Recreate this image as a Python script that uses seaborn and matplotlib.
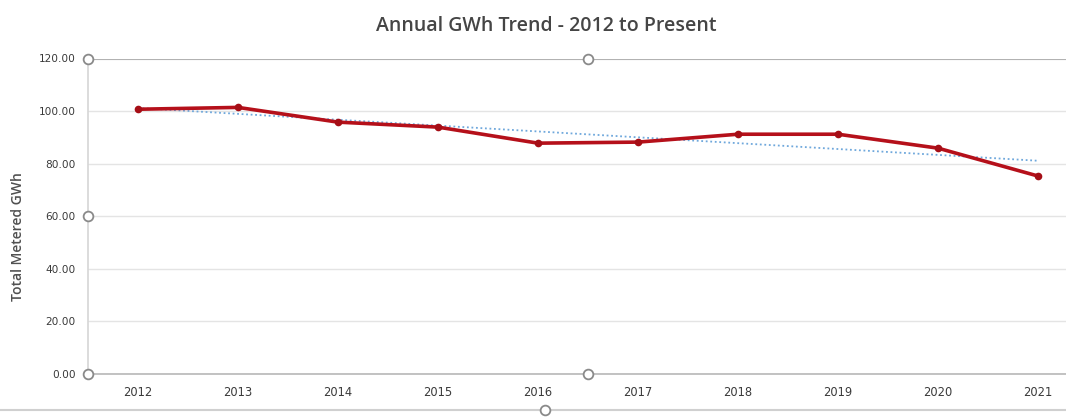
import matplotlib
matplotlib.use("Agg")
import matplotlib.pyplot as plt
import seaborn as sns
import numpy as np
import pandas as pd

# Annual metered energy, GWh
years = ["2012", "2013", "2014", "2015", "2016", "2017", "2018", "2019", "2020", "2021"]
gwh = [100.7, 101.4, 95.8, 93.9, 87.8, 88.2, 91.2, 91.2, 85.9, 75.3]
y_ticks = [0, 20, 40, 60, 80, 100, 120]

sns.set_theme(style="white")
plt.rcParams["font.family"] = ["Open Sans", "DejaVu Sans"]

df = pd.DataFrame({"year": years, "gwh": gwh, "idx": np.arange(len(years))})

# linear trend line fitted to the series
coef = np.polyfit(df["idx"], df["gwh"], 1)
df["trend"] = np.polyval(coef, df["idx"])

W, H = 1066, 417
fig = plt.figure(figsize=(W / 100, H / 100), dpi=100)
# plot area runs past the right edge of the figure
ax = fig.add_axes([88 / W, 1 - 374 / H, 1000 / W, (374 - 58.5) / H])

sns.lineplot(data=df, x="idx", y="trend", ax=ax, color="#6FA8DC",
             lw=1.3, linestyle=(0, (1, 1.5)), zorder=2)
sns.lineplot(data=df, x="idx", y="gwh", ax=ax, color="#B5101A", lw=2.6,
             marker="o", markersize=5.5, markeredgewidth=0,
             markerfacecolor="#A50E16", zorder=3)

ax.set_xlim(-0.5, len(years) - 0.5)
ax.set_ylim(0, 120)
ax.set_xticks(np.arange(len(years)))
ax.set_xticklabels(years)
ax.set_xticks(np.arange(-0.5, len(years), 1.0), minor=True)
ax.set_yticks(y_ticks)
ax.set_yticklabels([f"{v:.2f}" for v in y_ticks])

ax.tick_params(axis="x", which="major", length=0, pad=9, labelsize=8.3,
               labelcolor="#3a3a3a")
ax.tick_params(axis="x", which="minor", length=3, direction="inout",
               color="#d0d0d0", width=0.8)
ax.tick_params(axis="y", length=0, pad=9, labelsize=7.6, labelcolor="#3a3a3a")
for lab in ax.get_xticklabels() + ax.get_yticklabels():
    lab.set_family("DejaVu Sans")

ax.grid(axis="y", color="#e4e4e4", lw=1.0)
ax.grid(axis="x", visible=False)
ax.axhline(120, color="#a8a8a8", lw=1.2, zorder=1)
for side in ["top", "right"]:
    ax.spines[side].set_visible(False)
ax.spines["left"].set_color("#d6d6d6")
ax.spines["left"].set_linewidth(1.2)
ax.spines["bottom"].set_color("#b8b8b8")
ax.spines["bottom"].set_linewidth(1.2)

ax.set_xlabel("")
ax.set_ylabel("Total Metered GWh", fontsize=10, color="#505050",
              fontweight="semibold")
ax.yaxis.set_label_coords(-63 / 1000, 0.437)

fig.text(546 / W, 1 - 26 / H, "Annual GWh Trend - 2012 to Present",
         ha="center", va="center", fontsize=14, color="#454545",
         fontweight="semibold")

# selection handles around the plot area
handle_kw = dict(marker="o", markersize=7, markerfacecolor="white",
                 markeredgecolor="#8a8a8a", markeredgewidth=1.3,
                 clip_on=False, zorder=5, transform=ax.transAxes)
for hx, hy in [(0, 1), (0.5, 1), (0, 0.5), (0, 0), (0.5, 0)]:
    ax.plot([hx], [hy], **handle_kw)

# outer chart border line and its handle
fig.add_artist(plt.Line2D([0, 1], [1 - 410 / H, 1 - 410 / H],
                          transform=fig.transFigure, color="#d0d0d0", lw=1.5))
fig.add_artist(plt.Line2D([545 / W], [1 - 410 / H], transform=fig.transFigure,
                          marker="o", markersize=7, markerfacecolor="white",
                          markeredgecolor="#8a8a8a", markeredgewidth=1.3))

fig.savefig("out.png", dpi=100)
